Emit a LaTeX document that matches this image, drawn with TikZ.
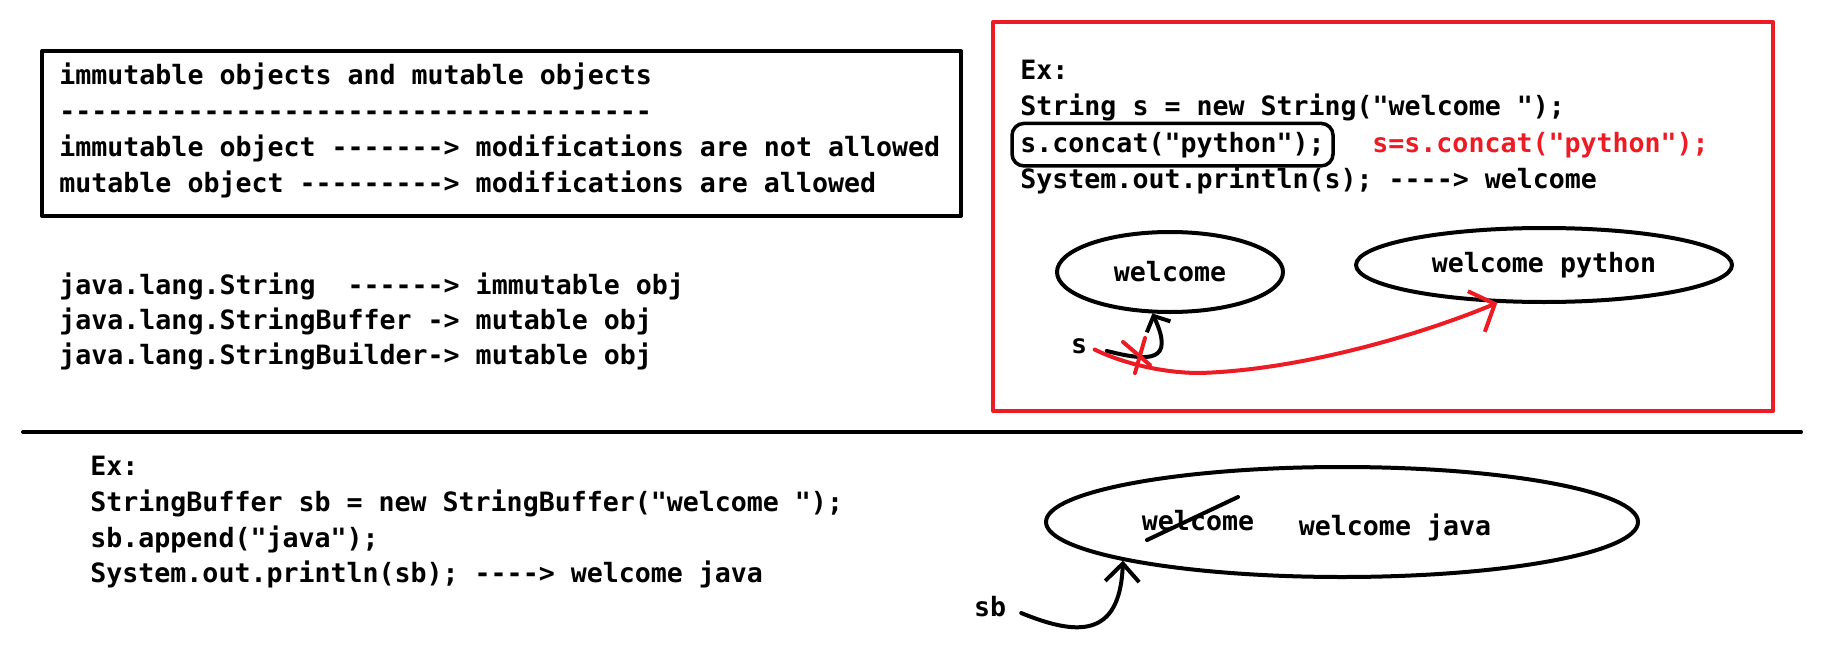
\documentclass[tikz,border=0pt]{standalone}
\usepackage{fontspec}
\setmonofont{DejaVu Sans Mono}
\usetikzlibrary{arrows.meta,shapes.geometric,positioning,fit}
\definecolor{inkred}{RGB}{237,28,36}

\tikzset{
  code/.style={font=\ttfamily\bfseries\fontsize{13.3}{16}\selectfont, inner sep=0pt, anchor=base west},
  blob/.style={draw, ellipse, line width=2pt, inner sep=0pt,
    font=\ttfamily\bfseries\fontsize{13.3}{16}\selectfont},
  pen/.style={line width=2pt},
}

\begin{document}
\begin{tikzpicture}[x=0.5pt,y=-0.5pt,line cap=round,line join=round]
    \useasboundingbox (0,0) rectangle (1824,647);

    % Kasten oben links
    \draw[pen] (42,51) rectangle (961,216);
    \node[code] (head) at (59,85) {immutable objects and mutable objects};
    \node[code] (rule) at (59,120.5) {-------------------------------------};
    \node[code] (immu) at (59,156) {immutable object -------> modifications are not allowed};
    \node[code] (mutu) at (59,192) {mutable object ---------> modifications are allowed};

    % Klassen
    \node[code] (jstr) at (59,294) {java.lang.String~~------> immutable obj};
    \node[code] (jbuf) at (59,329) {java.lang.StringBuffer -> mutable obj};
    \node[code] (jbld) at (59,364) {java.lang.StringBuilder-> mutable obj};

    % roter Rahmen: String
    \draw[inkred, pen] (993,22) rectangle (1773,411);
    \node[code] (exa) at (1020,80) {Ex:};
    \node[code] (decl) at (1020,116) {String s = new String("welcome ");};
    \node[code] (cat) at (1020,152) {s.concat("python");};
    \node[draw, line width=1.75pt, rounded corners=6pt, inner sep=4pt, fit=(cat)] (catbox) {};
    \node[code, text=inkred] (recat) at (1372,152) {s=s.concat("python");};
    \node[code] (outa) at (1020,188) {System.out.println(s); ----> welcome};

    \node[blob, minimum width=113pt, minimum height=40pt] (oldstr) at (1170,272) {welcome};
    \node[blob, minimum width=188pt, minimum height=37pt] (newstr) at (1544,265) {welcome python};
    \node[code, anchor=center] (svar) at (1079,346) {s};

    \draw[pen, -{Straight Barb[length=6pt,width=13pt]}, shorten <=10pt]
        (svar.east) .. controls (1150,362) and (1175,362) .. (oldstr.247);
    \draw[inkred, pen, -{Straight Barb[length=10pt,width=22pt]}, shorten <=4pt]
        (svar.east) .. controls (1120,362) and (1160,373) .. (1200,373)
        .. controls (1300,370) and (1420,335) .. (newstr.219);
    \draw[inkred, pen] (1123,342) -- (1150,365) (1145,338) -- (1135,373);

    % Trennlinie
    \draw[pen] (23,432) -- (1801,432);

    % StringBuffer
    \node[code] (exb) at (90,475) {Ex:};
    \node[code] (declb) at (90,511) {StringBuffer sb = new StringBuffer("welcome ");};
    \node[code] (app) at (90,547) {sb.append("java");};
    \node[code] (outb) at (90,582) {System.out.println(sb); ----> welcome java};

    \node[blob, minimum width=296pt, minimum height=55pt] (sbuf) at (1342,522) {};
    \node[code, anchor=center] (oldtxt) at (1198,521) {welcome};
    \node[code, anchor=center] (newtxt) at (1395,527) {welcome java};
    \draw[pen] (1147,540) -- (1238,497);
    \node[code, anchor=center] (sbvar) at (990,607) {sb};

    \draw[pen, -{Straight Barb[length=9pt,width=17pt]}, shorten <=8pt]
        (sbvar.east) .. controls (1075,635) and (1120,640) .. (sbuf.190);
\end{tikzpicture}
\end{document}
